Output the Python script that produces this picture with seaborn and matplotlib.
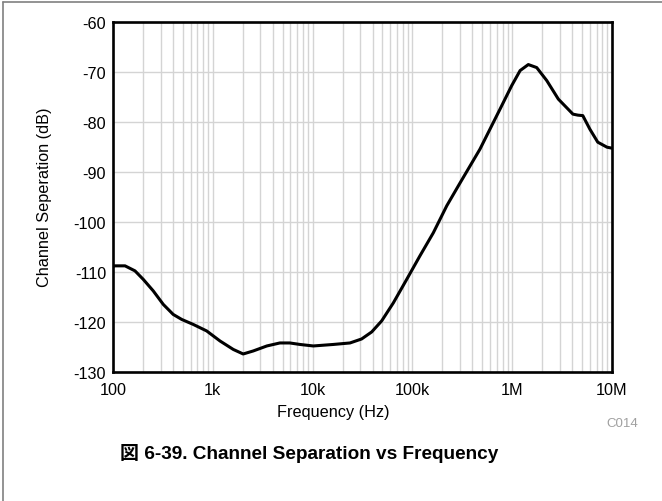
import numpy as np
import pandas as pd
import matplotlib.pyplot as plt
import seaborn as sns
from matplotlib.lines import Line2D
from matplotlib.ticker import FixedLocator, LogLocator, NullFormatter

# data
freq_hz = [100, 105, 132, 166, 201, 253, 319, 401, 488, 637, 868, 1180, 1606,
           2015, 2540, 3480, 4700, 5910, 7480, 10160, 16100, 23700, 31000,
           39100, 49200, 64400, 87700, 119000, 162000, 221000, 295000, 475000,
           755000, 989000, 1.2e6, 1.45e6, 1.76e6, 2.22e6, 2.9e6, 4.06e6,
           4.55e6, 5.1e6, 6.0e6, 7.2e6, 8.9e6, 1.0e7]
separation_db = [-108.9, -108.8, -108.8, -109.8, -111.5, -113.8, -116.5,
                 -118.5, -119.5, -120.5, -121.8, -123.8, -125.5, -126.4,
                 -125.8, -124.8, -124.2, -124.2, -124.5, -124.8, -124.5,
                 -124.2, -123.4, -122.0, -119.8, -116.2, -111.5, -106.8,
                 -102.2, -96.8, -92.5, -85.5, -77.5, -72.8, -69.8, -68.6,
                 -69.2, -71.8, -75.5, -78.5, -78.7, -78.8, -81.5, -84.1,
                 -85.1, -85.3]
xtick_vals = [1e2, 1e3, 1e4, 1e5, 1e6, 1e7]
xtick_labels = ['100', '1k', '10k', '100k', '1M', '10M']
ytick_vals = [-130, -120, -110, -100, -90, -80, -70, -60]

df = pd.DataFrame({'freq': freq_hz, 'sep': separation_db})

sns.set_style('whitegrid')
plt.rcParams['font.family'] = ['Liberation Sans', 'Noto Sans CJK JP', 'DejaVu Sans']
plt.rcParams['text.color'] = 'black'
plt.rcParams['axes.labelcolor'] = 'black'

fig = plt.figure(figsize=(6.62, 5.02), dpi=100)
ax = fig.add_axes([113 / 662, 1 - 373 / 502, 499 / 662, 350.5 / 502])

ax.set_xscale('log')
sns.lineplot(data=df, x='freq', y='sep', ax=ax, color='black', linewidth=2.2)

ax.set_xlim(1e2, 1e7)
ax.set_ylim(-130, -60)
ax.xaxis.set_major_locator(FixedLocator(xtick_vals))
ax.set_xticks(xtick_vals)
ax.set_xticklabels(xtick_labels)
ax.xaxis.set_minor_locator(LogLocator(base=10, subs=np.arange(2, 10)))
ax.xaxis.set_minor_formatter(NullFormatter())
ax.set_yticks(ytick_vals)
ax.set_yticklabels([str(v) for v in ytick_vals])

ax.grid(which='major', color='#d4d4d4', linewidth=1)
ax.grid(which='minor', axis='x', color='#d4d4d4', linewidth=1)
ax.tick_params(which='both', length=0, labelsize=11.7, colors='black')
ax.tick_params(axis='x', pad=7)
ax.tick_params(axis='y', pad=5)
for s in ax.spines.values():
    s.set_color('black')
    s.set_linewidth(1.9)
    s.set_visible(True)

ax.set_xlabel('')
ax.set_ylabel('')
fig.text(45 / 662, 1 - 197 / 502, 'Channel Seperation (dB)', rotation=90,
         ha='center', va='center', fontsize=11.7)
fig.text(333 / 662, 1 - 412 / 502, 'Frequency (Hz)', ha='center',
         va='center', fontsize=11.7)
fig.text(638 / 662, 1 - 424 / 502, 'C014', ha='right', va='center',
         fontsize=9.5, color='#a0a0a0')
fig.text(120 / 662, 1 - 454 / 502, '図 6-39. Channel Separation vs Frequency',
         ha='left', va='center', fontsize=13.7, fontweight='bold')

# gray frame lines on top and left
fig.add_artist(Line2D([3 / 662, 1], [1 - 3 / 502, 1 - 3 / 502],
                      color='#808080', linewidth=1.2))
fig.add_artist(Line2D([3 / 662, 3 / 662], [0, 1 - 3 / 502],
                      color='#808080', linewidth=1.2))

fig.savefig('out.png', dpi=100)
plt.close()
